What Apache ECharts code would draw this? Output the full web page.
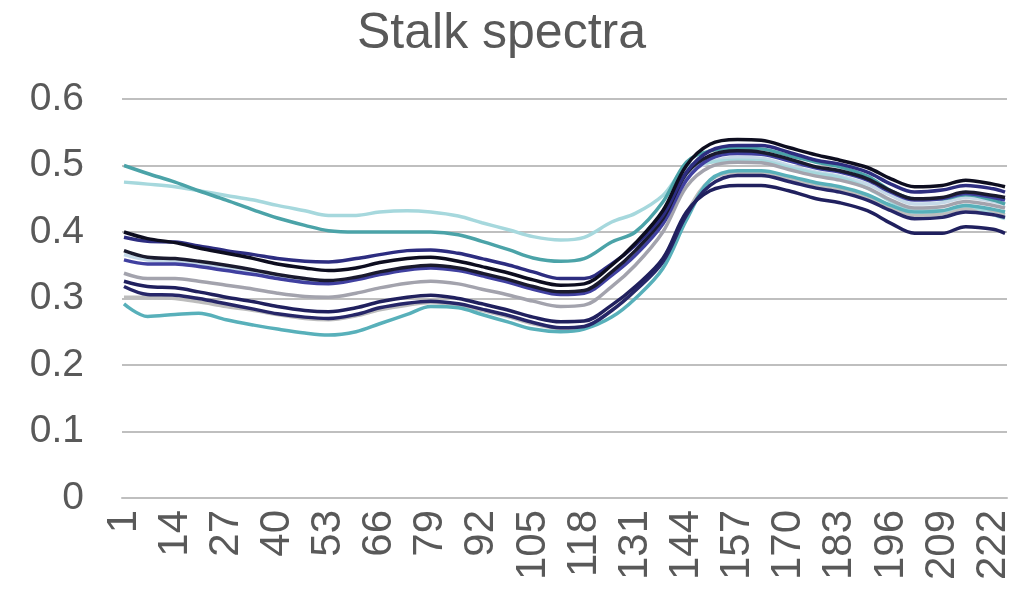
<!DOCTYPE html>
<html>
<head>
<meta charset="utf-8">
<script src="https://cdn.jsdelivr.net/npm/echarts@6/dist/echarts.min.js"></script>
<style>html,body{margin:0;padding:0;background:#fff}#c{width:1036px;height:596px}</style>
</head>
<body>
<div id="c"></div>
<script>
const categoryCount = 225;
const categories = Array.from({length: categoryCount}, (_, i) => String(i + 1));
const yTicks = [0, 0.1, 0.2, 0.3, 0.4, 0.5, 0.6];
const sampleX = [1,7,14,20,27,34,40,47,53,60,66,73,79,86,92,99,105,112,118,125,131,138,144,150,157,163,170,177,183,190,196,202,209,215,222,225];

const sTealTop   = [0.500,0.488,0.475,0.462,0.448,0.433,0.421,0.410,0.402,0.400,0.400,0.400,0.400,0.396,0.386,0.373,0.361,0.356,0.360,0.385,0.400,0.445,0.505,0.522,0.526,0.525,0.515,0.505,0.498,0.484,0.462,0.450,0.450,0.456,0.448,0.442];
const sLightTeal = [0.475,0.472,0.468,0.462,0.455,0.448,0.440,0.432,0.425,0.425,0.430,0.432,0.430,0.424,0.414,0.403,0.393,0.388,0.392,0.415,0.428,0.455,0.498,0.505,0.508,0.507,0.497,0.488,0.482,0.466,0.446,0.432,0.432,0.440,0.426,0.420];
const sBlack     = [0.400,0.390,0.384,0.376,0.368,0.360,0.352,0.346,0.342,0.346,0.354,0.360,0.362,0.356,0.348,0.338,0.328,0.320,0.322,0.350,0.383,0.432,0.500,0.532,0.539,0.538,0.527,0.516,0.508,0.497,0.480,0.468,0.470,0.478,0.472,0.468];
const sNavy      = [0.392,0.386,0.385,0.379,0.372,0.366,0.360,0.356,0.355,0.360,0.366,0.372,0.373,0.368,0.360,0.350,0.340,0.330,0.330,0.352,0.380,0.425,0.490,0.522,0.530,0.530,0.520,0.508,0.502,0.490,0.472,0.460,0.463,0.470,0.465,0.460];
const sBlack2    = [0.372,0.362,0.360,0.356,0.350,0.343,0.336,0.330,0.327,0.332,0.340,0.347,0.350,0.346,0.338,0.328,0.318,0.310,0.312,0.340,0.372,0.420,0.488,0.515,0.522,0.520,0.510,0.498,0.492,0.480,0.462,0.450,0.452,0.460,0.455,0.452];
const sBlue      = [0.358,0.352,0.352,0.348,0.342,0.336,0.330,0.324,0.322,0.328,0.336,0.343,0.346,0.342,0.334,0.324,0.314,0.306,0.308,0.335,0.365,0.412,0.478,0.510,0.518,0.517,0.507,0.496,0.490,0.478,0.460,0.448,0.450,0.458,0.452,0.448];
const sLightBlue = [0.366,0.358,0.356,0.352,0.346,0.340,0.333,0.327,0.324,0.330,0.338,0.344,0.348,0.344,0.336,0.326,0.316,0.308,0.310,0.338,0.370,0.418,0.484,0.505,0.512,0.511,0.500,0.490,0.484,0.472,0.455,0.442,0.444,0.452,0.446,0.442];
const sGray      = [0.338,0.330,0.330,0.326,0.320,0.314,0.308,0.303,0.302,0.308,0.316,0.323,0.326,0.322,0.314,0.305,0.296,0.288,0.290,0.318,0.350,0.400,0.468,0.498,0.505,0.504,0.494,0.484,0.478,0.466,0.448,0.436,0.438,0.446,0.440,0.436];
const sDarkNavy  = [0.326,0.318,0.316,0.310,0.302,0.295,0.288,0.282,0.280,0.286,0.295,0.302,0.305,0.300,0.292,0.282,0.272,0.265,0.266,0.290,0.318,0.360,0.430,0.462,0.470,0.470,0.462,0.450,0.444,0.432,0.413,0.398,0.398,0.408,0.404,0.398];
const sNavy2     = [0.318,0.306,0.305,0.300,0.292,0.284,0.277,0.272,0.270,0.276,0.286,0.293,0.296,0.292,0.284,0.274,0.264,0.256,0.258,0.282,0.312,0.355,0.425,0.470,0.485,0.485,0.476,0.466,0.460,0.448,0.432,0.420,0.422,0.430,0.426,0.422];
const sLightGray = [0.302,0.302,0.300,0.295,0.288,0.282,0.276,0.270,0.268,0.274,0.283,0.290,0.294,0.290,0.282,0.272,0.262,0.255,0.257,0.282,0.312,0.358,0.428,0.478,0.490,0.490,0.480,0.470,0.464,0.452,0.436,0.425,0.427,0.435,0.430,0.426];
const sTealLow   = [0.292,0.273,0.276,0.278,0.268,0.260,0.254,0.248,0.245,0.250,0.262,0.276,0.288,0.286,0.276,0.264,0.254,0.250,0.254,0.272,0.300,0.345,0.418,0.478,0.492,0.492,0.484,0.474,0.468,0.456,0.440,0.430,0.432,0.440,0.434,0.430];

const seriesDefs = [
  {name: 'lightGray', values: sLightGray, color: '#bdbdbd'},
  {name: 'lightBlue', values: sLightBlue, color: '#c5d9e8'},
  {name: 'lightTeal', values: sLightTeal, color: '#a6d8dd'},
  {name: 'gray', values: sGray, color: '#a3a3ad'},
  {name: 'tealLow', values: sTealLow, color: '#58b0ba'},
  {name: 'tealTop', values: sTealTop, color: '#4ba3a8'},
  {name: 'navy2', values: sNavy2, color: '#262668'},
  {name: 'blue', values: sBlue, color: '#4040a0'},
  {name: 'darkNavy', values: sDarkNavy, color: '#20205e'},
  {name: 'black2', values: sBlack2, color: '#1a1a2e'},
  {name: 'navy', values: sNavy, color: '#2d2d80'},
  {name: 'black', values: sBlack, color: '#0d0d1f'}
];

const chart = echarts.init(document.getElementById('c'), null, {renderer: 'canvas'});
const font = 'Liberation Sans, Arial, sans-serif';
chart.setOption({
  animation: false,
  backgroundColor: '#fff',
  title: {
    text: 'Stalk spectra', left: 352, top: 4,
    textStyle: {fontFamily: font, fontSize: 50, fontWeight: 'normal', color: '#595959'}
  },
  grid: {left: 122, right: 29, top: 99, bottom: 98},
  xAxis: {
    type: 'category', data: categories, boundaryGap: true,
    axisLine: {show: true, lineStyle: {color: '#bfbfbf', width: 2}},
    axisTick: {show: false},
    axisLabel: {interval: 12, rotate: 90, margin: 12, fontFamily: font, fontSize: 42, color: '#595959'},
    splitLine: {show: false}
  },
  yAxis: {
    type: 'value', min: yTicks[0], max: yTicks[yTicks.length - 1], interval: 0.1,
    axisLine: {show: false}, axisTick: {show: false},
    axisLabel: {margin: 38, fontFamily: font, fontSize: 39, color: '#595959',
      formatter: v => String(Math.round(v * 10) / 10)},
    splitLine: {lineStyle: {color: '#bfbfbf', width: 2}}
  },
  series: seriesDefs.map(s => ({
    name: s.name, type: 'line', smooth: 0.35, symbol: 'none',
    lineStyle: {width: 3.5, color: s.color},
    data: sampleX.map((x, k) => [String(x), s.values[k]])
  }))
});
</script>
</body>
</html>
